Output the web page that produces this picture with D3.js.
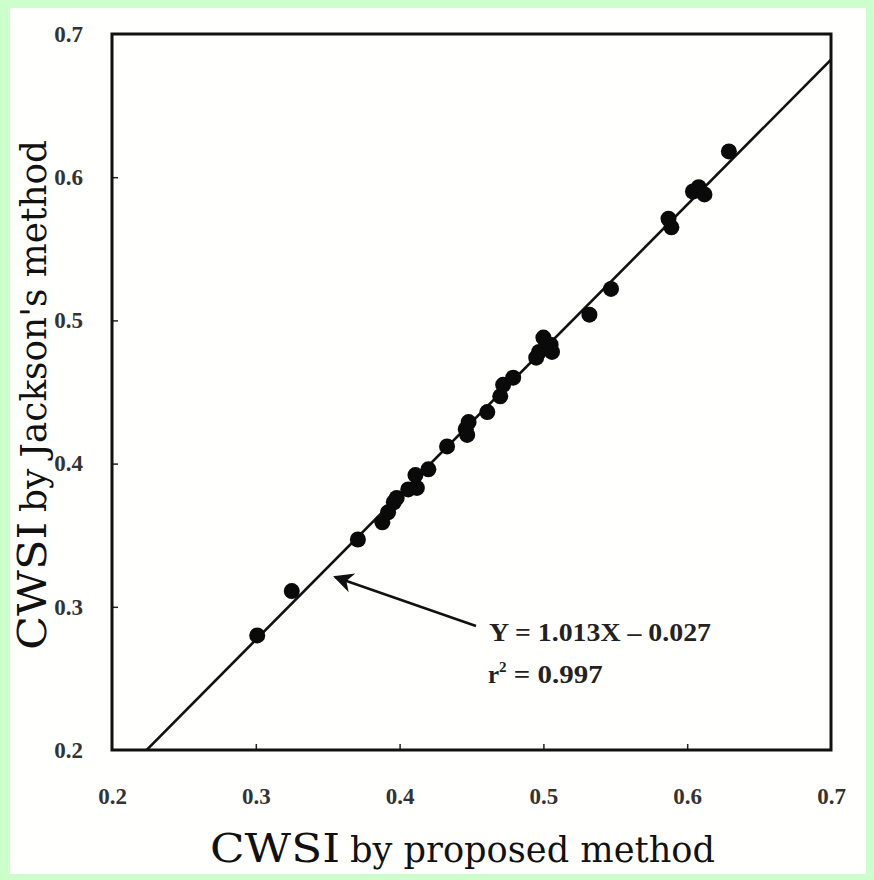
<!DOCTYPE html>
<html>
<head>
<meta charset="utf-8">
<script src="https://cdn.jsdelivr.net/npm/d3@7"></script>
<style>
  body { margin: 0; background: #ccffcc; }
  svg { display: block; }
</style>
</head>
<body>
<svg id="chart" width="874" height="880"></svg>
<script>
// CWSI values
const proposedX = [0.301, 0.325, 0.371, 0.388, 0.392, 0.396, 0.398, 0.406, 0.412, 0.411,
    0.420, 0.433, 0.446, 0.448, 0.447, 0.461, 0.470, 0.472, 0.479, 0.495,
    0.497, 0.500, 0.505, 0.506, 0.532, 0.547, 0.587, 0.589, 0.604, 0.608,
    0.612, 0.629];
const jacksonY = [0.280, 0.311, 0.347, 0.359, 0.366, 0.373, 0.376, 0.382, 0.383, 0.392,
    0.396, 0.412, 0.424, 0.429, 0.420, 0.436, 0.447, 0.455, 0.460, 0.474,
    0.478, 0.488, 0.483, 0.478, 0.504, 0.522, 0.571, 0.565, 0.590, 0.593,
    0.588, 0.618];
const tickValues = [0.2, 0.3, 0.4, 0.5, 0.6, 0.7];
const fitSlope = 1.013;
const fitIntercept = -0.027;

const svg = d3.select("#chart");

// white page inside the green border
svg.append("rect").attr("x", 10).attr("y", 8).attr("width", 856).attr("height", 866).attr("fill", "#fffffd");

const frameL = 112, frameR = 831, frameT = 34, frameB = 750;
const x = d3.scaleLinear().domain([0.2, 0.7]).range([frameL, frameR]);
const y = d3.scaleLinear().domain([0.2, 0.7]).range([frameB, frameT]);

// clip the fit line to the frame
svg.append("clipPath").attr("id", "frameClip")
    .append("rect").attr("x", frameL).attr("y", frameT).attr("width", frameR - frameL).attr("height", frameB - frameT);

const plot = svg.append("g");

// regression line
const lineX = [0.2, 0.7];
plot.append("path")
    .attr("clip-path", "url(#frameClip)")
    .attr("d", d3.line().x((d) => x(d)).y((d) => y(fitSlope * d + fitIntercept))(lineX))
    .attr("fill", "none")
    .attr("stroke", "#111")
    .attr("stroke-width", 2.6);

// points
plot.selectAll("circle.pt")
    .data(proposedX.map((v, i) => ({ x: v, y: jacksonY[i] })))
    .join("circle")
    .attr("class", "pt")
    .attr("cx", (d) => x(d.x))
    .attr("cy", (d) => y(d.y))
    .attr("r", 8)
    .attr("fill", "#0a0a0a");

// axes (ticks point inward, labels bold serif)
const xAxis = d3.axisBottom(x).tickValues(tickValues).tickSize(-6).tickPadding(38).tickFormat(d3.format(".1f"));
const yAxis = d3.axisLeft(y).tickValues(tickValues).tickSize(-6).tickPadding(29).tickFormat(d3.format(".1f"));

const gx = svg.append("g").attr("transform", `translate(0,${frameB})`).call(xAxis);
const gy = svg.append("g").attr("transform", `translate(${frameL},0)`).call(yAxis);
[gx, gy].forEach((g) => {
    g.select(".domain").remove();
    g.selectAll(".tick line").attr("stroke", "#222").attr("stroke-width", 1.5);
    g.selectAll(".tick text")
        .attr("font-family", "Liberation Serif")
        .attr("font-weight", "bold")
        .attr("font-size", 23)
        .attr("fill", "#333");
    g.selectAll(".tick").filter((d) => d === 0.2 || d === 0.7).select("line").remove();
});

// frame
svg.append("rect")
    .attr("x", frameL).attr("y", frameT)
    .attr("width", frameR - frameL).attr("height", frameB - frameT)
    .attr("fill", "none")
    .attr("stroke", "#111")
    .attr("stroke-width", 3);

// axis titles: larger "CWSI", smaller rest
function axisTitle(sel, rest, len1, len2) {
    sel.attr("font-family", "DejaVu Serif").attr("fill", "#111");
    sel.append("tspan").attr("font-size", 40)
        .attr("textLength", len1).attr("lengthAdjust", "spacingAndGlyphs").text("CWSI");
    sel.append("tspan").attr("font-size", 35).attr("dx", 10)
        .attr("textLength", len2).attr("lengthAdjust", "spacingAndGlyphs").text(rest);
}

svg.append("text")
    .attr("x", 210)
    .attr("y", 862)
    .call(axisTitle, "by proposed method", 130, 365);

svg.append("text")
    .attr("transform", "translate(46,650) rotate(-90)")
    .call(axisTitle, "by Jackson's method", 128, 372);

// annotation arrow
svg.append("defs").append("marker")
    .attr("id", "head")
    .attr("viewBox", "0 0 10 10")
    .attr("refX", 9).attr("refY", 5)
    .attr("markerWidth", 24).attr("markerHeight", 20)
    .attr("markerUnits", "userSpaceOnUse")
    .attr("orient", "auto")
    .append("path").attr("d", "M0,0 L10,5 L0,10 L3,5 Z").attr("fill", "#111");

svg.append("line")
    .attr("x1", 476).attr("y1", 626)
    .attr("x2", 335).attr("y2", 577)
    .attr("stroke", "#111")
    .attr("stroke-width", 2.4)
    .attr("marker-end", "url(#head)");

const note = svg.append("text")
    .attr("font-family", "Liberation Serif")
    .attr("font-weight", "bold")
    .attr("font-size", 25)
    .attr("fill", "#222");
note.append("tspan").attr("x", 489).attr("y", 641)
    .attr("textLength", 222).attr("lengthAdjust", "spacingAndGlyphs")
    .text("Y = 1.013X \u2013 0.027");
note.append("tspan").attr("x", 488).attr("y", 683).text("r");
note.append("tspan").attr("font-size", 15).attr("dy", -11).text("2");
note.append("tspan").attr("dy", 11).attr("textLength", 96).attr("lengthAdjust", "spacingAndGlyphs").text(" = 0.997");
</script>
</body>
</html>
